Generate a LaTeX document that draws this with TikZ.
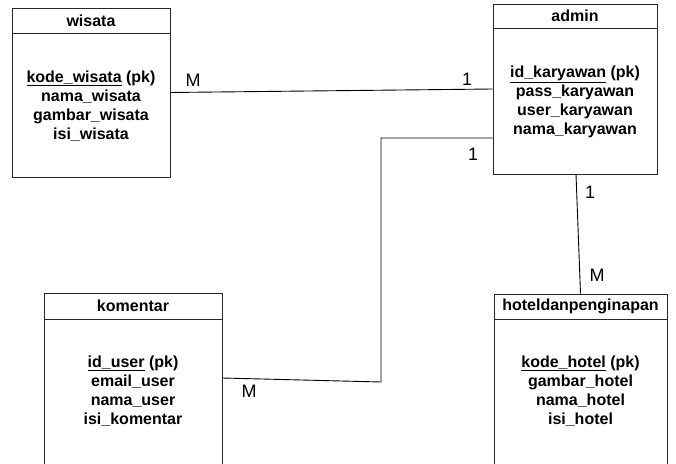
\documentclass[tikz,border=0pt]{standalone}
\usepackage{fontspec}
\setmainfont{Liberation Sans}
\begin{document}
\begin{tikzpicture}[x=1pt,y=-1pt,
  entity/.style={draw=black!85, line width=0.9pt, rectangle, inner sep=0pt},
  title/.style={font=\fontsize{16}{19}\selectfont\bfseries, inner sep=0pt, anchor=center},
  attrs/.style={font=\fontsize{16}{19}\selectfont\bfseries, align=center, inner sep=0pt, anchor=center},
  card/.style={font=\fontsize{18}{21}\selectfont, inner sep=0pt, anchor=center},
  conn/.style={draw=black, line width=0.9pt}]
\useasboundingbox (0,0) rectangle (676,463);
\clip (0,0) rectangle (676,463);
% entities
\node[entity, minimum width=158pt, minimum height=169pt] (wisata) at (91,92.5) {};
\node[entity, minimum width=164pt, minimum height=170pt] (admin) at (575,89) {};
\node[entity, minimum width=178pt, minimum height=187pt] (komentar) at (133,386.5) {};
\node[entity, minimum width=173pt, minimum height=186pt] (hotel) at (580.5,387) {};
% header separators
\draw[line width=0.9pt, black!85] (wisata.north west |- 0,33) coordinate (wh1) -- (wisata.north east |- 0,33) coordinate (wh2);
\draw[line width=0.9pt, black!85] (admin.north west |- 0,28) coordinate (ah1) -- (admin.north east |- 0,28) coordinate (ah2);
\draw[line width=0.9pt, black!85] (komentar.north west |- 0,319) coordinate (kh1) -- (komentar.north east |- 0,319) coordinate (kh2);
\draw[line width=0.9pt, black!85] (hotel.north west |- 0,319) coordinate (hh1) -- (hotel.north east |- 0,319) coordinate (hh2);
% titles
\node[title] (wt) at (91,21) {wisata};
\node[title] (at) at (575,16) {admin};
\node[title] (kt) at (133,306) {komentar};
\node[title] (ht) at (580.5,306) {hoteldanpenginapan};
% attributes
\node[attrs] (wa) at (91,106) {\underline{kode\_wisata} (pk)\\nama\_wisata\\gambar\_wisata\\isi\_wisata};
\node[attrs] (aa) at (575,101.5) {\underline{id\_karyawan} (pk)\\pass\_karyawan\\user\_karyawan\\nama\_karyawan};
\node[attrs] (ka) at (133,391) {\underline{id\_user} (pk)\\email\_user\\nama\_user\\isi\_komentar};
\node[attrs] (ha) at (580.5,391) {\underline{kode\_hotel} (pk)\\gambar\_hotel\\nama\_hotel\\isi\_hotel};
% connectors
\draw[conn] (wisata.east) -- (admin.west);
\coordinate (c1) at (381,138);
\coordinate (c2) at (381,382);
\draw[conn] ([yshift=-49pt]admin.west) -- (c1) -- (c2) -- ([yshift=8.5pt]komentar.east);
\draw[conn] ([xshift=1pt]admin.south) -- (hotel.north);
% cardinalities
\node[card] (m1) at (193,80) {M};
\node[card] (o1) at (467,79) {1};
\node[card] (o2) at (473,154) {1};
\node[card] (m2) at (249,391) {M};
\node[card] (o3) at (590,192) {1};
\node[card] (m3) at (597,275) {M};
\end{tikzpicture}
\end{document}
